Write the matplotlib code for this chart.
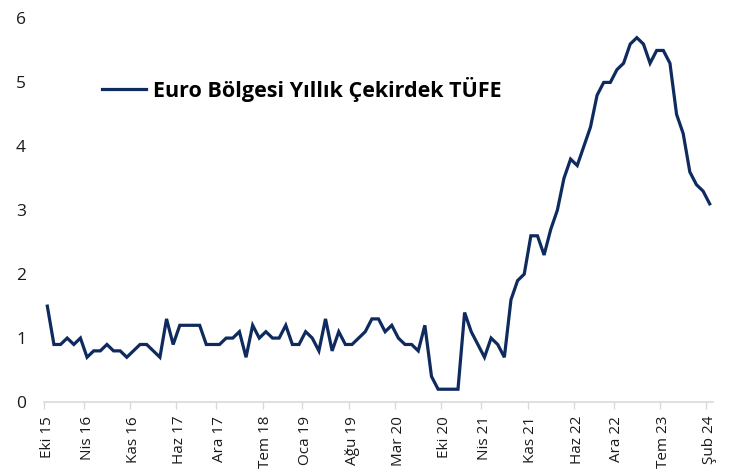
import matplotlib
matplotlib.use("Agg")
import matplotlib.pyplot as plt
import numpy as np

# Monthly series: Eki 2015 .. Şub 2024
values = [
    1.5, 0.9, 0.9, 1.0, 0.9, 1.0, 0.7, 0.8, 0.8, 0.9, 0.8, 0.8,   # Eki15 - Eyl16
    0.7, 0.8, 0.9, 0.9, 0.8, 0.7, 1.3, 0.9, 1.2, 1.2, 1.2, 1.2,   # Eki16 - Eyl17
    0.9, 0.9, 0.9, 1.0, 1.0, 1.1, 0.7, 1.2, 1.0, 1.1, 1.0, 1.0,   # Eki17 - Eyl18
    1.2, 0.9, 0.9, 1.1, 1.0, 0.8, 1.3, 0.8, 1.1, 0.9, 0.9, 1.0,   # Eki18 - Eyl19
    1.1, 1.3, 1.3, 1.1, 1.2, 1.0, 0.9, 0.9, 0.8, 1.2, 0.4, 0.2,   # Eki19 - Eyl20
    0.2, 0.2, 0.2, 1.4, 1.1, 0.9, 0.7, 1.0, 0.9, 0.7, 1.6, 1.9,   # Eki20 - Eyl21
    2.0, 2.6, 2.6, 2.3, 2.7, 3.0, 3.5, 3.8, 3.7, 4.0, 4.3, 4.8,   # Eki21 - Eyl22
    5.0, 5.0, 5.2, 5.3, 5.6, 5.7, 5.6, 5.3, 5.5, 5.5, 5.3, 4.5,   # Eki22 - Eyl23
    4.2, 3.6, 3.4, 3.3, 3.1,                                      # Eki23 - Şub24
]
tick_labels = ["Eki 15", "Nis 16", "Kas 16", "Haz 17", "Ara 17", "Tem 18",
               "Oca 19", "Ağu 19", "Mar 20", "Eki 20", "Nis 21", "Kas 21",
               "Haz 22", "Ara 22", "Tem 23", "Şub 24"]
tick_index = [0, 6, 13, 20, 26, 33, 39, 46, 53, 60, 66, 73, 80, 86, 93, 100]
series_name = "Euro Bölgesi Yıllık Çekirdek TÜFE"
y_ticks = [0, 1, 2, 3, 4, 5, 6]

plt.rcParams['font.family'] = ['Open Sans', 'DejaVu Sans']

fig = plt.figure(figsize=(7.48, 4.75), dpi=100)
ax = fig.add_axes([44/748, 1-402/475, (713-44)/748, (402-18.5)/475])

x = np.arange(len(values))
line, = ax.plot(x, values, color='#0E2A5E', lw=2.3, solid_joinstyle='miter')

ax.set_xlim(-0.5, len(values) - 0.5)
ax.set_ylim(0, 6)
ax.set_yticks(y_ticks)
ax.set_yticklabels([str(v) for v in y_ticks], fontsize=12.5, color='#1a1a1a')
ax.tick_params(axis='y', length=0, pad=13)

ax.set_xticks(tick_index)
ax.set_xticklabels(tick_labels, rotation=90, fontsize=11, color='#1a1a1a')
ax.tick_params(axis='x', which='major', length=0, pad=10)
ax.set_xticks([i - 0.5 for i in tick_index], minor=True)
ax.tick_params(axis='x', which='minor', length=5, color='#D9D9D9', width=1)

for s in ['top', 'right', 'left']:
    ax.spines[s].set_visible(False)
ax.spines['bottom'].set_color('#D9D9D9')
ax.spines['bottom'].set_linewidth(1.2)

leg = fig.legend([line], [series_name], loc='center left',
                 bbox_to_anchor=(102/748, 1-89/475), frameon=False,
                 prop={'weight': 'bold', 'size': 15.5}, handlelength=2.06,
                 handletextpad=0.32, borderpad=0, borderaxespad=0)

fig.savefig("out.png", dpi=100)
